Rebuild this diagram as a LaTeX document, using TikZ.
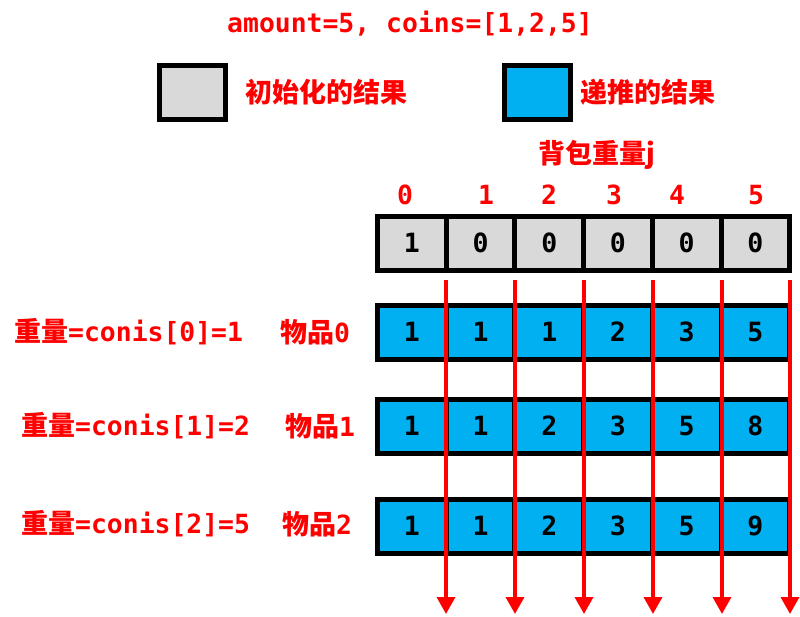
\documentclass[tikz,border=0pt]{standalone}
\usepackage{fontspec}
\usetikzlibrary{arrows.meta}
\newfontfamily\mono{DejaVu Sans Mono}
\newfontfamily\cjk{Noto Sans CJK SC}
\definecolor{cellgray}{HTML}{D9D9D9}
\definecolor{cellblue}{HTML}{00B0F0}
\definecolor{myred}{HTML}{FF0000}
\newcommand{\tm}[1]{{\mono\bfseries #1}}
\newcommand{\tc}[1]{{\cjk\bfseries\fontsize{27}{30}\selectfont #1}}
\tikzset{
  cellbox/.style={draw=black, line width=5pt, minimum width=68.7pt, minimum height=54pt, inner sep=0pt, font=\mono\bfseries\fontsize{26.5}{30}\selectfont, text=black},
  initcell/.style={cellbox, fill=cellgray},
  dpcell/.style={cellbox, fill=cellblue},
  legendbox/.style={draw=black, line width=5pt, minimum width=66pt, minimum height=54pt, inner sep=0pt},
  redtext/.style={text=myred, inner sep=0pt, font=\fontsize{26.4}{30}\selectfont},
  redarrow/.style={draw=myred, line width=3.5pt, -{Triangle[width=18pt,length=17pt]}}
}
\begin{document}
\begin{tikzpicture}[x=1pt,y=-1pt]
\useasboundingbox (0,0) rectangle (800,616);
% title
\node[redtext] (title) at (410,24) {\tm{amount=5, coins=[1,2,5]}};
% legend
\node[legendbox, fill=cellgray] (lg1) at (192.5,92.5) {};
\node[redtext, anchor=west] (lt1) at (245,92) {\tc{初始化的结果}};
\node[legendbox, fill=cellblue] (lg2) at (537.5,92.5) {};
\node[redtext, anchor=west] (lt2) at (580,92) {\tc{递推的结果}};
% axis title
\node[redtext] (axis) at (597,155) {\tc{背包重量j}};
% column headers
\foreach \x/\t [count=\i from 0] in {405/0,486/1,549/2,614/3,677/4,756/5}
  \node[redtext] (h\i) at (\x,195) {\tm{\t}};
% rows
\foreach \v [count=\i from 0] in {1,0,0,0,0,0}
  \node[initcell] (r0c\i) at ({377.5+68.7*(\i+0.5)},243) {\v};
\foreach \v [count=\i from 0] in {1,1,1,2,3,5}
  \node[dpcell] (r1c\i) at ({377.5+68.7*(\i+0.5)},332) {\v};
\foreach \v [count=\i from 0] in {1,1,2,3,5,8}
  \node[dpcell] (r2c\i) at ({377.5+68.7*(\i+0.5)},426) {\v};
\foreach \v [count=\i from 0] in {1,1,2,3,5,9}
  \node[dpcell] (r3c\i) at ({377.5+68.7*(\i+0.5)},526) {\v};
% row labels
\node[redtext, anchor=west] (w0) at (14,332) {\tc{重量}\tm{=conis[0]=1}};
\node[redtext, anchor=west] (g0) at (280,332) {\tc{物品}\tm{0}};
\node[redtext, anchor=west] (w1) at (21,426) {\tc{重量}\tm{=conis[1]=2}};
\node[redtext, anchor=west] (g1) at (285,426) {\tc{物品}\tm{1}};
\node[redtext, anchor=west] (w2) at (21,524) {\tc{重量}\tm{=conis[2]=5}};
\node[redtext, anchor=west] (g2) at (282,524) {\tc{物品}\tm{2}};
% arrows
\foreach \x [count=\i] in {446,515,584,653,722,790} {
  \coordinate (a\i) at (\x,280);
  \coordinate (b\i) at (\x,614);
  \draw[redarrow] (a\i) -- (b\i);
}
\end{tikzpicture}
\end{document}
